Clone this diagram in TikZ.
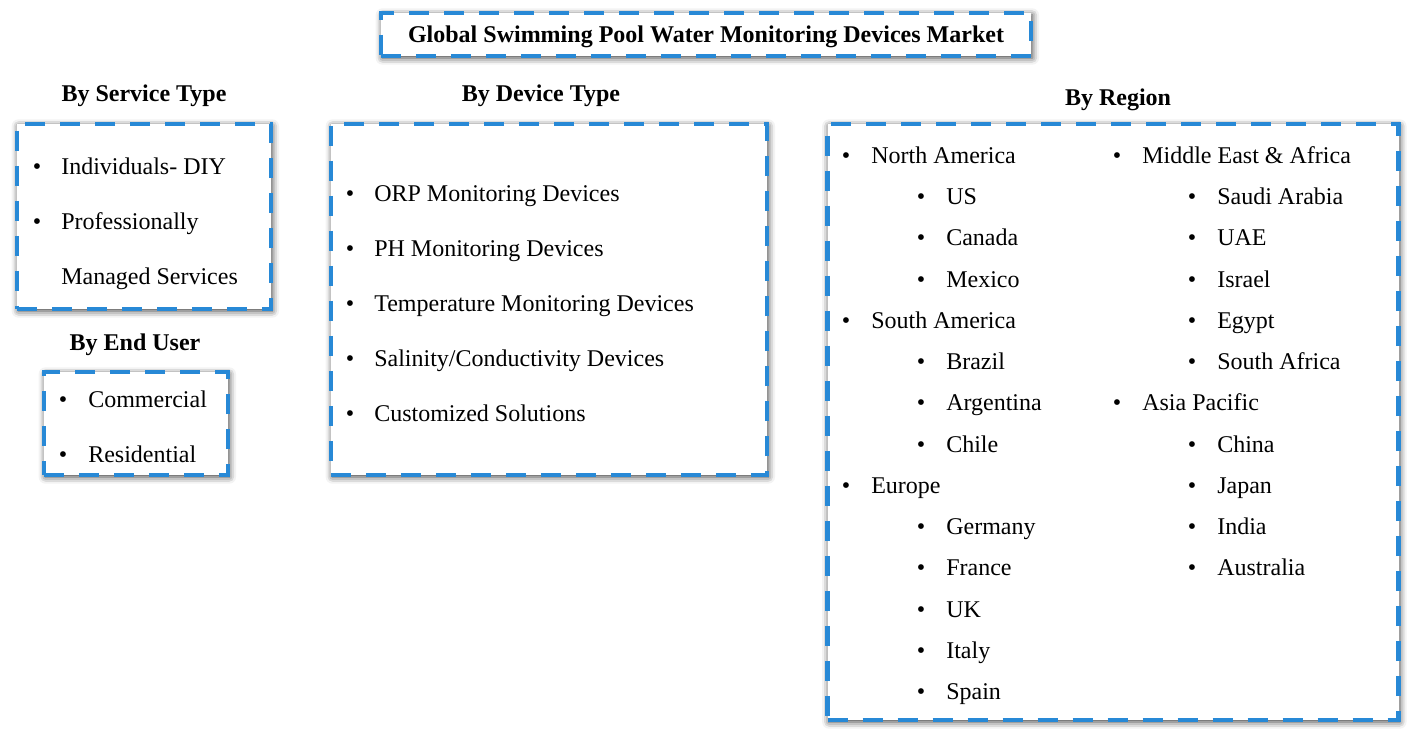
\documentclass[tikz,border=0pt]{standalone}
\usepackage{fontspec}
\setmainfont{Liberation Serif}
\usetikzlibrary{shadows.blur}
\definecolor{dashblue}{RGB}{40,137,214}

\tikzset{
  catbox/.style={draw=dashblue, line width=3.6pt, dash pattern=on 15pt off 11.25pt, fill=white, inner sep=0pt,
    blur shadow={shadow xshift=1pt, shadow yshift=-1.5pt, shadow blur radius=5pt, shadow opacity=75}},
  header/.style={anchor=base, inner sep=0pt, font=\bfseries\fontsize{18}{22}\selectfont},
  item/.style={anchor=base west, inner sep=0pt, font=\fontsize{18}{22}\selectfont},
  dot/.style={anchor=base, inner sep=0pt, font=\fontsize{18}{22}\selectfont},
}

\begin{document}
\begin{tikzpicture}[x=0.75pt,y=-0.75pt]
  \useasboundingbox (0,0) rectangle (1419,741);

  % title
  \node[catbox, minimum width={650*0.75pt}, minimum height={43*0.75pt}] (title) at (706,34.5) {};
  \node[header] (titletext) at (706,43) {Global Swimming Pool Water Monitoring Devices Market};

  % service type
  \node[header] (servicehead) at (144,102) {By Service Type};
  \node[catbox, minimum width={254*0.75pt}, minimum height={185*0.75pt}] (service) at (144,216.5) {};
  \node[dot] (servicedot1) at (37,175) {\textbullet};
  \node[item] (service1) at (61,175) {Individuals- DIY};
  \node[dot] (servicedot2) at (37,230) {\textbullet};
  \node[item] (service2) at (61,230) {Professionally};
  \node[item] (service3) at (61,285) {Managed Services};

  % end user
  \node[header] (userhead) at (135,350) {By End User};
  \node[catbox, minimum width={184*0.75pt}, minimum height={103*0.75pt}] (user) at (136,423.5) {};
  \foreach \txt [count=\i] in {Commercial, Residential}{
    \node[dot] (userdot\i) at (63,{407.5+55*(\i-1)}) {\textbullet};
    \node[item] (user\i) at (88,{407.5+55*(\i-1)}) {\txt};
  }

  % device type
  \node[header] (devicehead) at (541,102) {By Device Type};
  \node[catbox, minimum width={436*0.75pt}, minimum height={351*0.75pt}] (device) at (549,299.5) {};
  \foreach \txt [count=\i] in {ORP Monitoring Devices, PH Monitoring Devices, Temperature Monitoring Devices,
      Salinity/Conductivity Devices, Customized Solutions}{
    \node[dot] (devicedot\i) at (350,{201.5+55*(\i-1)}) {\textbullet};
    \node[item] (device\i) at (374,{201.5+55*(\i-1)}) {\txt};
  }

  % region
  \node[header] (regionhead) at (1118,106) {By Region};
  \node[catbox, minimum width={571*0.75pt}, minimum height={596*0.75pt}] (region) at (1113,422) {};
  \foreach \lvl/\txt [count=\i] in {1/North America, 2/US, 2/Canada, 2/Mexico, 1/South America, 2/Brazil,
      2/Argentina, 2/Chile, 1/Europe, 2/Germany, 2/France, 2/UK, 2/Italy, 2/Spain}{
    \node[dot] (regiondot\i) at ({846+75*(\lvl-1)},{163.5+41.23*(\i-1)}) {\textbullet};
    \node[item] (region\i) at ({871+75*(\lvl-1)},{163.5+41.23*(\i-1)}) {\txt};
  }
  \foreach \lvl/\txt [count=\i] in {1/Middle East \& Africa, 2/Saudi Arabia, 2/UAE, 2/Israel, 2/Egypt,
      2/South Africa, 1/Asia Pacific, 2/China, 2/Japan, 2/India, 2/Australia}{
    \node[dot] (mideastdot\i) at ({1117+75*(\lvl-1)},{163.5+41.23*(\i-1)}) {\textbullet};
    \node[item] (mideast\i) at ({1142+75*(\lvl-1)},{163.5+41.23*(\i-1)}) {\txt};
  }
\end{tikzpicture}
\end{document}
